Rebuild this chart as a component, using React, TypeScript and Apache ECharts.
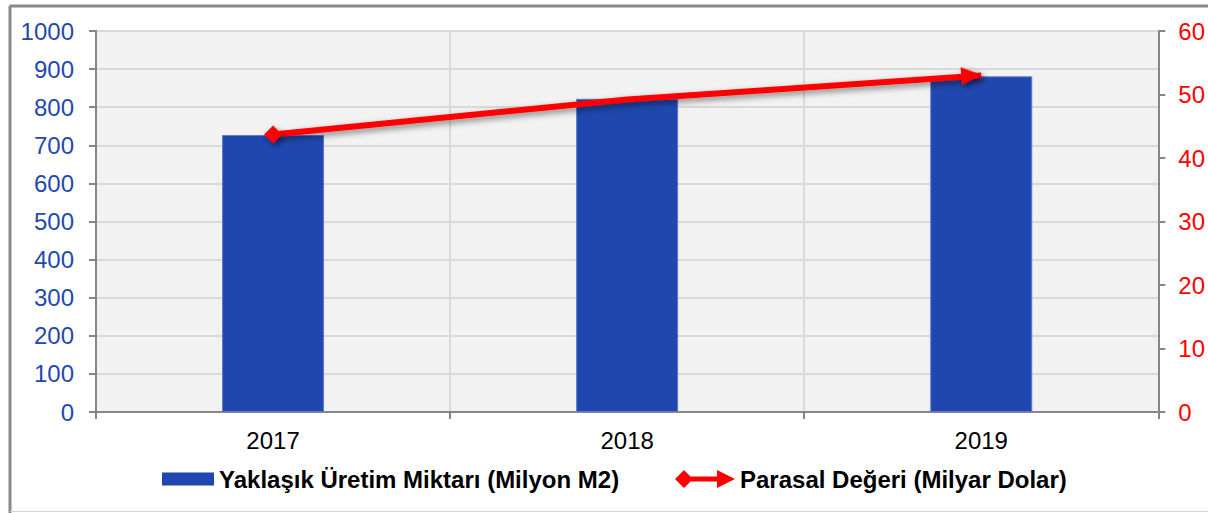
import React, { useEffect, useRef } from "react";
import * as echarts from "echarts";

const categories = ["2017", "2018", "2019"];
const productionValues = [727, 822, 881];
const monetaryValues = [43.7, 49.2, 53.0];
const barName = "Yaklaşık Üretim Miktarı (Milyon M2)";
const lineName = "Parasal Değeri (Milyar Dolar)";

export default function App() {
  const ref = useRef<HTMLDivElement>(null);
  useEffect(() => {
    if (!ref.current) return;
    const chart = echarts.init(ref.current, null, { renderer: "svg" });
    const font = "Liberation Sans, Arial, sans-serif";
    const lineData = monetaryValues.map((v, i) => {
      if (i === 0) return { value: v, symbol: "diamond", symbolSize: 18 };
      if (i === monetaryValues.length - 1)
        return {
          value: v,
          symbol: "path://M0,0 L20,9 L0,18 Z",
          symbolSize: [20, 18],
          symbolRotate: 4,
          symbolOffset: ["-50%", 0],
        };
      return { value: v, symbol: "none" };
    });
    chart.setOption({
      animation: false,
      backgroundColor: "#ffffff",
      graphic: [
        { type: "line", shape: { x1: 9.5, y1: 6, x2: 1208, y2: 6 }, style: { stroke: "#8a8a8a", lineWidth: 3 } },
        { type: "line", shape: { x1: 10, y1: 6, x2: 10, y2: 513 }, style: { stroke: "#8a8a8a", lineWidth: 3 } },
        { type: "line", shape: { x1: 10, y1: 511.5, x2: 1208, y2: 511.5 }, style: { stroke: "#d4d4d4", lineWidth: 1 } },
      ],
      grid: {
        left: 96,
        right: 49,
        top: 31,
        bottom: 101,
        show: true,
        backgroundColor: "#f2f2f2",
        borderWidth: 0,
      },
      legend: [
        {
          data: [barName],
          left: 157,
          top: 462,
          itemWidth: 52,
          itemHeight: 13,
          icon: "rect",
          itemStyle: { color: "#1F47AF", borderWidth: 0 },
          textStyle: { fontFamily: font, fontSize: 24, fontWeight: "bold", color: "#000" },
        },
        {
          data: [{ name: lineName, icon: "path://M0,9 L9,0 L18,9 L9,18 Z M16,6.5 L43,6.5 L43,11.5 L16,11.5 Z M42,0 L60,9 L42,18 Z" }],
          left: 670,
          top: 462,
          itemWidth: 60,
          itemHeight: 18,
          itemStyle: { color: "#ff0000", borderWidth: 0, shadowBlur: 0 },
          textStyle: { fontFamily: font, fontSize: 24, fontWeight: "bold", color: "#000" },
        },
      ],
      xAxis: {
        type: "category",
        data: categories,
        boundaryGap: true,
        axisLine: { lineStyle: { color: "#868686", width: 2 } },
        axisTick: { show: true, length: 7, lineStyle: { color: "#868686", width: 2 } },
        axisLabel: { color: "#000", fontFamily: font, fontSize: 24, margin: 16 },
        splitLine: { show: true, lineStyle: { color: "#d9d9d9", width: 2 } },
      },
      yAxis: [
        {
          type: "value",
          min: 0,
          max: 1000,
          interval: 100,
          axisLine: { show: true, lineStyle: { color: "#868686", width: 2 } },
          axisTick: { show: true, length: 7, lineStyle: { color: "#868686", width: 2 } },
          axisLabel: {
            color: "#2349B0",
            fontFamily: font,
            fontSize: 24,
            margin: 22,
            formatter: (v: number) => String(v),
          },
          splitLine: { show: true, lineStyle: { color: "#d9d9d9", width: 2 } },
        },
        {
          type: "value",
          min: 0,
          max: 60,
          interval: 10,
          position: "right",
          axisLine: { show: true, lineStyle: { color: "#868686", width: 2 } },
          axisTick: { show: true, length: 7, lineStyle: { color: "#868686", width: 2 } },
          axisLabel: { color: "#ff0000", fontFamily: font, fontSize: 24, margin: 20 },
          splitLine: { show: false },
        },
      ],
      series: [
        {
          name: barName,
          type: "bar",
          data: productionValues,
          barWidth: 102,
          itemStyle: { color: "#1F47AF", borderColor: "#5F7ACB", borderWidth: 1 },
        },
        {
          name: lineName,
          type: "line",
          yAxisIndex: 1,
          data: lineData,
          lineStyle: {
            color: "#ff0000",
            width: 6,
            shadowColor: "rgba(0,0,0,0.45)",
            shadowBlur: 6,
            shadowOffsetX: 2,
            shadowOffsetY: 3,
          },
          itemStyle: {
            color: "#ff0000",
            shadowColor: "rgba(0,0,0,0.45)",
            shadowBlur: 6,
            shadowOffsetX: 2,
            shadowOffsetY: 3,
          },
          z: 5,
        },
      ],
    });
    return () => chart.dispose();
  }, []);
  return (
    <div
      ref={ref}
      style={{ position: "fixed", left: 0, top: 0, width: 1208, height: 513 }}
    />
  );
}
